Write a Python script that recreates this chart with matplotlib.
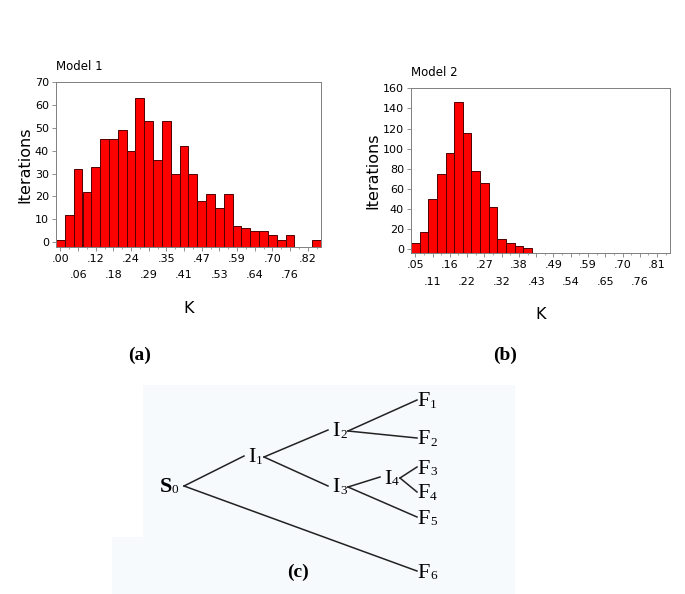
import matplotlib
matplotlib.use('Agg')
import matplotlib.pyplot as plt
import numpy as np

# histogram data (one count per bin)
m1_counts = [1, 12, 32, 22, 33, 45, 45, 49, 40, 63, 53, 36, 53, 30, 42,
             30, 18, 21, 15, 21, 7, 6, 5, 5, 3, 1, 3, 0, 0, 1]
m1_start, m1_width = 0.0, 0.0293
m1_labels = ['.00', '.06', '.12', '.18', '.24', '.29', '.35', '.41',
             '.47', '.53', '.59', '.64', '.70', '.76', '.82']
m1_yticks = [0, 10, 20, 30, 40, 50, 60, 70]

m2_counts = [6, 17, 50, 75, 96, 146, 116, 78, 66, 42, 10, 6, 3, 1, 0,
             0, 0, 0, 0, 0, 0, 0, 0, 0, 0, 0, 0, 0, 0, 0]
m2_start, m2_width = 0.054, 0.027
m2_labels = ['.05', '.11', '.16', '.22', '.27', '.32', '.38', '.43',
             '.49', '.54', '.59', '.65', '.70', '.76', '.81']
m2_yticks = [0, 20, 40, 60, 80, 100, 120, 140, 160]

# tree (c): node label, parent
nodes = ['S0', 'I1', 'I2', 'I3', 'I4', 'F1', 'F2', 'F3', 'F4', 'F5', 'F6']
parents = {'I1': 'S0', 'F6': 'S0', 'I2': 'I1', 'I3': 'I1', 'F1': 'I2', 'F2': 'I2',
           'I4': 'I3', 'F5': 'I3', 'F3': 'I4', 'F4': 'I4'}

W, H = 685, 594
fig = plt.figure(figsize=(W / 100, H / 100), dpi=100)
fig.patch.set_facecolor('white')

frame_col = '#7f7f7f'


def hist_panel(rect, counts, start, width, labels, yticks, ymin, title, xpad):
    ax = fig.add_axes(rect)
    counts = np.array(counts)
    centers = start + width * np.arange(len(counts))
    keep = counts > 0
    ax.bar(centers[keep], counts[keep] - ymin, bottom=ymin, width=width,
           color='#ff0000', edgecolor='#500000', linewidth=0.7)
    ax.set_xlim(centers[0] - width / 2, centers[-1] + width / 2)
    ax.set_ylim(ymin, yticks[-1])
    ax.set_yticks(yticks)
    ax.set_yticklabels([str(v) for v in yticks], fontsize=8)
    ax.set_xticks(centers[::2])
    ax.set_xticks(centers, minor=True)
    ax.set_xticklabels([l if i % 2 == 0 else '\n' + l for i, l in enumerate(labels)],
                       fontsize=8, linespacing=1.8)
    ax.tick_params(axis='both', which='major', length=3, width=0.6,
                   color=frame_col, pad=2)
    ax.tick_params(axis='x', which='minor', length=1.5, width=0.5, color=frame_col)
    for s in ax.spines.values():
        s.set_color(frame_col)
        s.set_linewidth(0.7)
    ax.set_ylabel('Iterations', fontsize=11.5, labelpad=2)
    ax.set_xlabel('K', fontsize=11.5, labelpad=xpad)
    ax.set_title(title, fontsize=8.5, loc='left', x=0.0, pad=9)
    return ax


ax1 = hist_panel([56 / W, 1 - 246.7 / H, 265 / W, 164.7 / H],
                 m1_counts, m1_start, m1_width, m1_labels, m1_yticks, -2, 'Model 1', 15)
ax2 = hist_panel([411 / W, 1 - 253.3 / H, 259 / W, 165 / H],
                 m2_counts, m2_start, m2_width, m2_labels, m2_yticks, -4, 'Model 2', 15)

# panel (c) drawn in pixel coordinates over the whole figure
axc = fig.add_axes([0, 0, 1, 1], zorder=-1)
axc.set_xlim(0, W)
axc.set_ylim(H, 0)
axc.axis('off')
axc.add_patch(plt.Rectangle((143, 385), 372, 209, color='#f6fafc', lw=0))
axc.add_patch(plt.Rectangle((112, 537), 31, 57, color='#f6fafc', lw=0))

pos = {'S0': (170, 487), 'I1': (254, 458), 'I2': (338, 432), 'I3': (338, 488),
       'I4': (390, 479), 'F1': (428, 402), 'F2': (428, 440), 'F3': (428, 469),
       'F4': (428, 494), 'F5': (428, 519), 'F6': (428, 573)}
half = {'S': 13, 'I': 9, 'F': 10}

for n in nodes:
    x, y = pos[n]
    bold = 'bold' if n == 'S0' else 'normal'
    axc.text(x + 2, y, n[0], family='Liberation Serif', fontsize=16,
             weight=bold, ha='right', va='center')
    axc.text(x + 2, y + 3, n[1], family='Liberation Serif', fontsize=9.5,
             ha='left', va='center')
for child, par in parents.items():
    px, py = pos[par]
    cx, cy = pos[child]
    axc.plot([px + half[par[0]] + 1, cx - half[child[0]] - 1], [py - 1, cy - 2],
             color='#222222', lw=1.1)

axc.text(140, 355, '(a)', family='Liberation Serif', weight='bold', fontsize=14,
         ha='center', va='center')
axc.text(505, 355, '(b)', family='Liberation Serif', weight='bold', fontsize=14,
         ha='center', va='center')
axc.text(298, 572, '(c)', family='Liberation Serif', weight='bold', fontsize=14,
         ha='center', va='center')

fig.savefig('out.png', dpi=100)
